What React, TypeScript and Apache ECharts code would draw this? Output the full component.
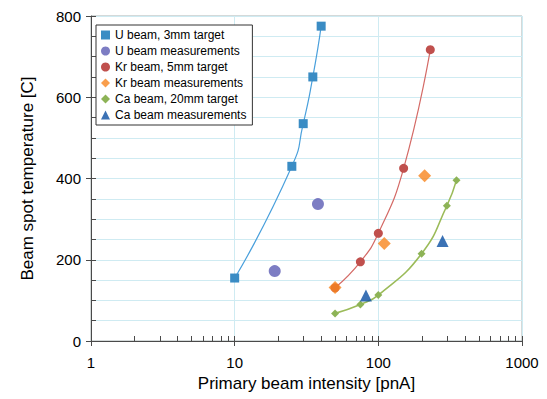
import React, { useEffect, useRef } from "react";
import * as echarts from "echarts";

const uTargetX = [10, 25, 30, 35, 40];
const uTargetY = [155, 430, 535, 650, 775];
const uMeasX = [19, 38];
const uMeasY = [172, 337];
const krTargetX = [50, 75, 100, 150, 230];
const krTargetY = [131, 195, 265, 425, 717];
const krMeasX = [50, 110, 210];
const krMeasY = [132, 240, 407];
const caTargetX = [50, 75, 100, 200, 300, 350];
const caTargetY = [68, 90, 113, 215, 333, 396];
const caMeasX = [82, 280];
const caMeasY = [112, 246];

const xDecades = [1, 10, 100];
const xMinorSteps = [2, 3, 4, 5, 6, 7, 8, 9];

const seriesNames = [
  "U beam, 3mm target",
  "U beam measurements",
  "Kr beam, 5mm target",
  "Kr beam measurements",
  "Ca beam, 20mm target",
  "Ca beam measurements",
];

const pairs = (xs: number[], ys: number[]) => xs.map((x, i) => [x, ys[i]]);

export default function App() {
  const ref = useRef<HTMLDivElement>(null);
  useEffect(() => {
    if (!ref.current) return;
    const chart = echarts.init(ref.current, undefined, { renderer: "svg" });
    const font = "Liberation Sans, Arial, sans-serif";
    const gridColor = "#cfebf2";
    const axisColor = "#4a4a4a";
    const minorTickData: number[][] = [];
    xDecades.forEach((d) => xMinorSteps.forEach((k) => minorTickData.push([d * k, 0])));
    const baseX = {
      type: "log" as const,
      logBase: 10,
      min: 1,
      max: 1000,
      position: "bottom" as const,
    };
    const baseY = {
      type: "value" as const,
      min: 0,
      max: 800,
      interval: 200,
      position: "left" as const,
    };
    chart.setOption({
      animation: false,
      backgroundColor: "#ffffff",
      textStyle: { fontFamily: font },
      grid: {
        left: 91,
        right: 25,
        top: 16,
        bottom: 58,
        show: true,
        borderColor: "#a9b3b3",
        borderWidth: 1,
        backgroundColor: "transparent",
      },
      legend: {
        orient: "vertical",
        left: 96,
        top: 25,
        backgroundColor: "#ffffff",
        borderColor: "#333333",
        borderWidth: 1,
        borderRadius: 0,
        padding: [4, 6, 4, 5],
        itemWidth: 9,
        itemHeight: 9,
        itemGap: 4,
        textStyle: { fontSize: 12, color: "#000", fontFamily: font },
        data: [
          { name: seriesNames[0], icon: "rect" },
          { name: seriesNames[1], icon: "circle" },
          { name: seriesNames[2], icon: "circle" },
          { name: seriesNames[3], icon: "diamond" },
          { name: seriesNames[4], icon: "diamond" },
          { name: seriesNames[5], icon: "triangle" },
        ],
      },
      xAxis: [
        {
          ...baseX,
          axisLine: { show: true, lineStyle: { color: axisColor, width: 1 } },
          axisTick: { show: true, inside: true, length: 5, lineStyle: { color: axisColor } },
          axisLabel: {
            fontSize: 15,
            color: "#000",
            margin: 14,
            formatter: (v: number) => String(Math.round(v)),
          },
          splitLine: { show: true, lineStyle: { color: gridColor, width: 1 } },
          name: "Primary beam intensity [pnA]",
          nameLocation: "middle",
          nameGap: 34,
          nameTextStyle: { fontSize: 17, color: "#000" },
        },
        {
          ...baseX,
          axisLine: { show: false },
          axisTick: { show: true, inside: false, length: 5, lineStyle: { color: axisColor } },
          axisLabel: { show: false },
          splitLine: { show: false },
        },
      ],
      yAxis: [
        {
          ...baseY,
          axisLine: { show: true, lineStyle: { color: axisColor, width: 1 } },
          axisTick: { show: true, inside: true, length: 5, lineStyle: { color: axisColor } },
          minorTick: { show: true, splitNumber: 4, length: 5, lineStyle: { color: axisColor } },
          axisLabel: { fontSize: 15, color: "#000", margin: 10 },
          splitLine: { show: true, lineStyle: { color: gridColor, width: 1 } },
          minorSplitLine: { show: true, lineStyle: { color: gridColor, width: 1 } },
          name: "Beam spot temperature [C]",
          nameLocation: "middle",
          nameGap: 55,
          nameTextStyle: { fontSize: 17, color: "#000" },
        },
        {
          ...baseY,
          axisLine: { show: false },
          axisTick: { show: true, inside: false, length: 5, lineStyle: { color: axisColor } },
          axisLabel: { show: false },
          splitLine: { show: false },
        },
      ],
      series: [
        {
          name: "minorTicks",
          type: "custom",
          data: minorTickData,
          silent: true,
          clip: false,
          z: 10,
          renderItem: (_params: any, api: any) => {
            const p = api.coord([api.value(0), api.value(1)]);
            const x = Math.round(p[0]) + 0.5;
            return {
              type: "line",
              shape: { x1: x, y1: p[1], x2: x, y2: p[1] - 5 },
              style: { stroke: axisColor, lineWidth: 1 },
            };
          },
        },
        {
          name: seriesNames[0],
          type: "line",
          data: pairs(uTargetX, uTargetY),
          smooth: 0.6,
          symbol: "rect",
          symbolSize: 9,
          itemStyle: { color: "#3a8cc4" },
          lineStyle: { color: "#4aa0dc", width: 1.2 },
          z: 3,
        },
        {
          name: seriesNames[1],
          type: "scatter",
          data: pairs(uMeasX, uMeasY),
          symbol: "circle",
          symbolSize: 12,
          itemStyle: { color: "#5c5cb4" },
          z: 4,
        },
        {
          name: seriesNames[2],
          type: "line",
          data: pairs(krTargetX, krTargetY),
          smooth: 0.5,
          symbol: "circle",
          symbolSize: 9,
          itemStyle: { color: "#c0504d" },
          lineStyle: { color: "#d46a66", width: 1.2 },
          z: 3,
        },
        {
          name: seriesNames[3],
          type: "scatter",
          data: pairs(krMeasX, krMeasY),
          symbol: "diamond",
          symbolSize: 13,
          itemStyle: { color: "#f7861f" },
          z: 5,
        },
        {
          name: seriesNames[4],
          type: "line",
          data: pairs(caTargetX, caTargetY),
          smooth: 0.5,
          symbol: "diamond",
          symbolSize: 8,
          itemStyle: { color: "#8db356" },
          lineStyle: { color: "#9bbb59", width: 1.6 },
          z: 3,
        },
        {
          name: seriesNames[5],
          type: "scatter",
          data: pairs(caMeasX, caMeasY),
          symbol: "triangle",
          symbolSize: 12,
          itemStyle: { color: "#0b4fa2" },
          z: 5,
        },
      ],
    });
    return () => chart.dispose();
  }, []);
  return <div ref={ref} style={{ width: 547, height: 399, position: "absolute", left: 0, top: 0 }} />;
}
